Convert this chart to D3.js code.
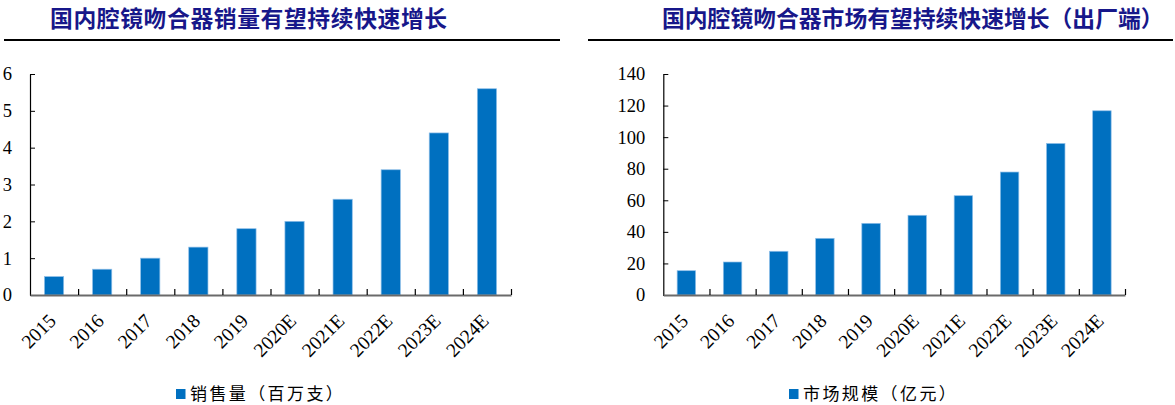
<!DOCTYPE html>
<html>
<head>
<meta charset="utf-8">
<script src="https://cdn.jsdelivr.net/npm/d3@7"></script>
<style>
  html, body { margin: 0; padding: 0; background: #fff; }
  svg { display: block; }
</style>
</head>
<body>
<svg id="chart" width="1175" height="405"></svg>
<script>
// ---- data ----
const categories = ["2015", "2016", "2017", "2018", "2019", "2020E", "2021E", "2022E", "2023E", "2024E"];
const salesVolume = [0.5, 0.7, 1.0, 1.3, 1.8, 2.0, 2.6, 3.4, 4.4, 5.6];      // 百万支
const marketSize = [15.4, 20.9, 27.7, 35.9, 45.4, 50.5, 62.9, 77.9, 96.0, 116.7]; // 亿元
const salesTicks = [0, 1, 2, 3, 4, 5, 6];
const marketTicks = [0, 20, 40, 60, 80, 100, 120, 140];
const titles = ["国内腔镜吻合器销量有望持续快速增长", "国内腔镜吻合器市场有望持续快速增长（出厂端）"];
const legendLabels = ["销售量（百万支）", "市场规模（亿元）"];

const svg = d3.select("#chart");
const BAR = "#0070C0";
const TITLE_COLOR = "#17178a";
const serif = "'Liberation Serif', 'Times New Roman', serif";
const cjk = "'Noto Sans CJK SC', sans-serif";

const panels = [
  { values: salesVolume, ticks: salesTicks, max: 6, x0: 30, x1: 511, title: titles[0], titleX: 50, titleSpacing: 0.6, ruleX0: 4, ruleX1: 560, legend: legendLabels[0], legX: 176 },
  { values: marketSize, ticks: marketTicks, max: 140, x0: 663.3, x1: 1125, title: titles[1], titleX: 662, titleSpacing: 0, ruleX0: 588, ruleX1: 1173, legend: legendLabels[1], legX: 789 }
];
const yTop = 74, yBottom = 295;

panels.forEach(p => {
  const g = svg.append("g");

  // title + rule
  g.append("text")
    .attr("x", p.titleX).attr("y", 27)
    .attr("font-family", cjk).attr("font-weight", "bold")
    .attr("font-size", 22.8).attr("fill", TITLE_COLOR)
    .attr("letter-spacing", p.titleSpacing)
    .text(p.title);
  g.append("line")
    .attr("x1", p.ruleX0).attr("x2", p.ruleX1)
    .attr("y1", 40).attr("y2", 40)
    .attr("stroke", "#000").attr("stroke-width", 2.2);

  const x = d3.scaleBand().domain(categories).range([p.x0, p.x1])
    .paddingInner(0.6).paddingOuter(0.3);
  const y = d3.scaleLinear().domain([0, p.max]).range([yBottom, yTop]);

  // bars
  g.append("g").selectAll("rect")
    .data(p.values)
    .join("rect")
    .attr("x", (d, i) => x(categories[i]))
    .attr("y", d => y(d))
    .attr("width", x.bandwidth())
    .attr("height", d => y(0) - y(d))
    .attr("fill", BAR)
    .attr("stroke", "#8fbfe8").attr("stroke-width", 0.7);

  // y axis
  const yAxis = g.append("g")
    .attr("transform", `translate(${p.x0},0)`)
    .call(d3.axisLeft(y).tickValues(p.ticks).tickFormat(d3.format("d"))
      .tickSizeInner(-5).tickSizeOuter(0).tickPadding(18));
  yAxis.select(".domain").attr("stroke", "#000").attr("stroke-width", 1.2);
  yAxis.selectAll(".tick line").attr("stroke", "#000").attr("stroke-width", 1);
  yAxis.selectAll("text").attr("font-family", serif).attr("font-size", 18.5).attr("fill", "#000");

  // x axis: boundary ticks
  const xi = d3.scaleLinear().domain([0, categories.length]).range([p.x0, p.x1]);
  const xAxis = g.append("g")
    .attr("transform", `translate(0,${yBottom})`)
    .call(d3.axisBottom(xi).tickValues(d3.range(1, categories.length + 1))
      .tickFormat("").tickSizeInner(-6).tickSizeOuter(0));
  xAxis.select(".domain").attr("stroke", "#6a6a6a").attr("stroke-width", 1.8);
  xAxis.selectAll(".tick line").attr("stroke", "#000").attr("stroke-width", 1.2);

  // x labels
  g.append("g").selectAll("text")
    .data(categories)
    .join("text")
    .attr("transform", d => `translate(${x(d) + x.bandwidth() / 2 + 3},${yBottom + 27}) rotate(-45)`)
    .attr("text-anchor", "end")
    .attr("font-family", serif).attr("font-size", 19.5).attr("fill", "#000")
    .text(d => d);

  // legend
  g.append("rect")
    .attr("x", p.legX).attr("y", 389).attr("width", 9.5).attr("height", 10)
    .attr("fill", BAR);
  g.append("text")
    .attr("x", p.legX + 14).attr("y", 400)
    .attr("font-family", cjk).attr("font-size", 17).attr("fill", "#000")
    .attr("letter-spacing", 2.4)
    .text(p.legend);
});
</script>
</body>
</html>
